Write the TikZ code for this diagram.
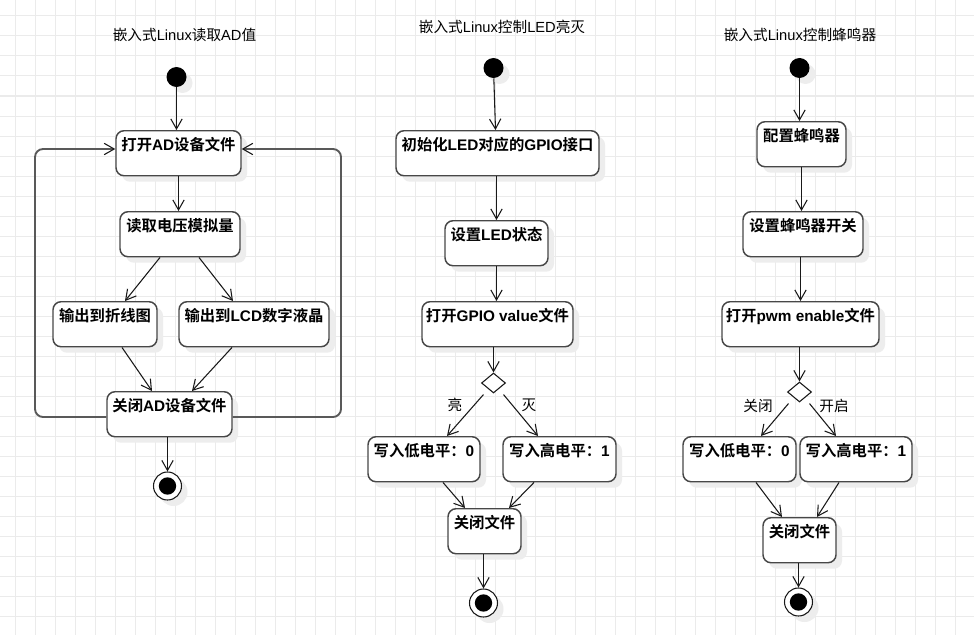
\documentclass[tikz,border=0pt]{standalone}
\usepackage{fontspec}
\setmainfont{Noto Sans CJK SC}[BoldFont={Noto Sans CJK SC Bold}]
\newfontfamily\lat{Liberation Sans}
\usetikzlibrary{arrows.meta,shapes.geometric,shadows,calc}
\begin{document}
\begin{tikzpicture}[x=0.75pt,y=-0.75pt,
  gridline/.style={draw=black!8, line width=0.75pt},
  shad/.style={drop shadow={shadow xshift=4.5pt, shadow yshift=-4.5pt, fill=black!7, opacity=1}},
  box/.style={draw=black!72, line width=1.1pt, rounded corners=6pt, fill=white, anchor=north,
    inner xsep=0pt, inner ysep=0pt, text height=15pt, text depth=18.75pt,
    font=\bfseries\fontsize{11.5}{13}\selectfont, shad},
  bw/.style={minimum width=#1*0.75pt},
  tip/.style={-{Straight Barb[length=7.5pt,width=8.5pt,line width=0.8pt,color=black!90]}},
  arr/.style={draw=black!90, line width=0.8pt, tip},
  loopln/.style={draw=black!65, line width=1.4pt, rounded corners=6pt, tip},
  startdot/.style={circle, fill=black, minimum size=15pt, inner sep=0pt, shad},
  enddot/.style={circle, draw=black!90, line width=0.8pt, fill=white, minimum size=21pt, inner sep=0pt, shad,
    path picture={\fill[black] (path picture bounding box.center) circle (6.5pt);}},
  decision/.style={diamond, draw=black!90, line width=0.8pt, fill=white, minimum width=18pt, minimum height=15pt, inner sep=0pt},
  ttl/.style={font=\fontsize{11}{13}\selectfont},
  lbl/.style={font=\fontsize{11}{13}\selectfont}
]
\useasboundingbox (0,0) rectangle (974,635);
\fill[white] (0,0) rectangle (974,635);
\foreach \gx in {15,35,...,955} \draw[gridline] (\gx,0) -- (\gx,635);
\foreach \gy in {16,36,...,616} \draw[gridline] (0,\gy) -- (974,\gy);

% ---------- Left diagram ----------
\node[ttl] (t1) at (184.5,35) {嵌入式{\lat Linux}读取{\lat AD}值};
\node[startdot] (s1) at (176.5,77) {};
\node[box,bw=125] (b1) at (178.5,130) {打开{\lat AD}设备文件};
\node[box,bw=120] (b2) at (180,211) {读取电压模拟量};
\node[box,bw=104] (b3) at (105,301) {输出到折线图};
\node[box,bw=150] (b4) at (254,301) {输出到{\lat LCD}数字液晶};
\node[box,bw=125] (b5) at (169.5,391) {关闭{\lat AD}设备文件};
\node[enddot] (e1) at (167.5,486) {};
\coordinate (lL) at (35,149);
\coordinate (lR) at (341,149);

\draw[arr] (s1) -- (s1 |- b1.north);
\draw[arr] (b1.south) -- (b1.south |- b2.north);
\draw[arr] ($(b2.south)+(-20,0)$) -- ($(b3.north)+(20,0)$);
\draw[arr] ($(b2.south)+(19,0)$) -- ($(b4.north)+(-21,0)$);
\draw[arr] ($(b3.south)+(17,0)$) -- ($(b5.north)+(-17.5,0)$);
\draw[arr] ($(b4.south)+(-22,0)$) -- ($(b5.north)+(22.5,0)$);
\draw[arr] (e1 |- b5.south) -- (e1.north);
\draw[loopln] ($(b5.north west)+(0,26)$) -| (lL) -- ($(b1.north west)+(0,19)$);
\draw[loopln] ($(b5.north east)+(0,26)$) -| (lR) -- ($(b1.north east)+(0,19)$);

% ---------- Middle diagram ----------
\node[ttl] (t2) at (502,27) {嵌入式{\lat Linux}控制{\lat LED}亮灭};
\node[startdot] (s2) at (493.5,68) {};
\node[box,bw=203] (m1) at (497.5,130) {初始化{\lat LED}对应的{\lat GPIO}接口};
\node[box,bw=103] (m2) at (496.5,220) {设置{\lat LED}状态};
\node[box,bw=151] (m3) at (497.5,301) {打开{\lat GPIO value}文件};
\node[decision] (d2) at (493.5,383) {};
\node[box,bw=112] (m4) at (424,436) {写入低电平：{\lat 0}};
\node[box,bw=113] (m5) at (559.5,436) {写入高电平：{\lat 1}};
\node[box,bw=73] (m6) at (484.5,508) {关闭文件};
\node[enddot] (e2) at (483.5,603) {};
\node[lbl] (la2) at (455,405) {亮};
\node[lbl] (lb2) at (529,405) {灭};

\draw[arr] (s2) -- ($(m1.north)+(-2,0)$);
\draw[arr] (m2.north |- m1.south) -- (m2.north);
\draw[arr] (m2.south) -- (m2.south |- m3.north);
\draw[arr] (d2 |- m3.south) -- (d2.north);
\draw[arr] ($(d2.south)+(-10,1)$) -- ($(m4.north)+(23,0)$);
\draw[arr] ($(d2.south)+(10,1)$) -- ($(m5.north)+(-21.5,0)$);
\draw[arr] ($(m4.south)+(19,0)$) -- ($(m6.north)+(-19.5,0)$);
\draw[arr] ($(m5.south)+(-25.5,0)$) -- ($(m6.north)+(24.5,0)$);
\draw[arr] (e2 |- m6.south) -- (e2.north);

% ---------- Right diagram ----------
\node[ttl] (t3) at (800,35) {嵌入式{\lat Linux}控制蜂鸣器};
\node[startdot] (s3) at (799.5,68) {};
\node[box,bw=89] (r1) at (801.5,121) {配置蜂鸣器};
\node[box,bw=120] (r2) at (803,211) {设置蜂鸣器开关};
\node[box,bw=157] (r3) at (800.5,301) {打开{\lat pwm enable}文件};
\node[decision] (d3) at (799.5,392) {};
\node[box,bw=113] (r4) at (739.5,436) {写入低电平：{\lat 0}};
\node[box,bw=112] (r5) at (856,436) {写入高电平：{\lat 1}};
\node[box,bw=73] (r6) at (799.5,517) {关闭文件};
\node[enddot] (e3) at (798.5,602) {};
\node[lbl] (la3) at (758,406) {关闭};
\node[lbl] (lb3) at (834,406) {开启};

\draw[arr] (s3) -- (s3 |- r1.north);
\draw[arr] (r1.south) -- (r1.south |- r2.north);
\draw[arr] (r3.north |- r2.south) -- (r3.north);
\draw[arr] (d3 |- r3.south) -- (d3.north);
\draw[arr] ($(d3.south)+(-11,1)$) -- ($(r4.north)+(21.5,0)$);
\draw[arr] ($(d3.south)+(10,1)$) -- ($(r5.north)+(-20,0)$);
\draw[arr] ($(r4.south)+(16.5,0)$) -- ($(r6.north)+(-17.5,0)$);
\draw[arr] ($(r5.south)+(-17,0)$) -- ($(r6.north)+(17.5,0)$);
\draw[arr] (e3 |- r6.south) -- (e3.north);
\end{tikzpicture}
\end{document}
